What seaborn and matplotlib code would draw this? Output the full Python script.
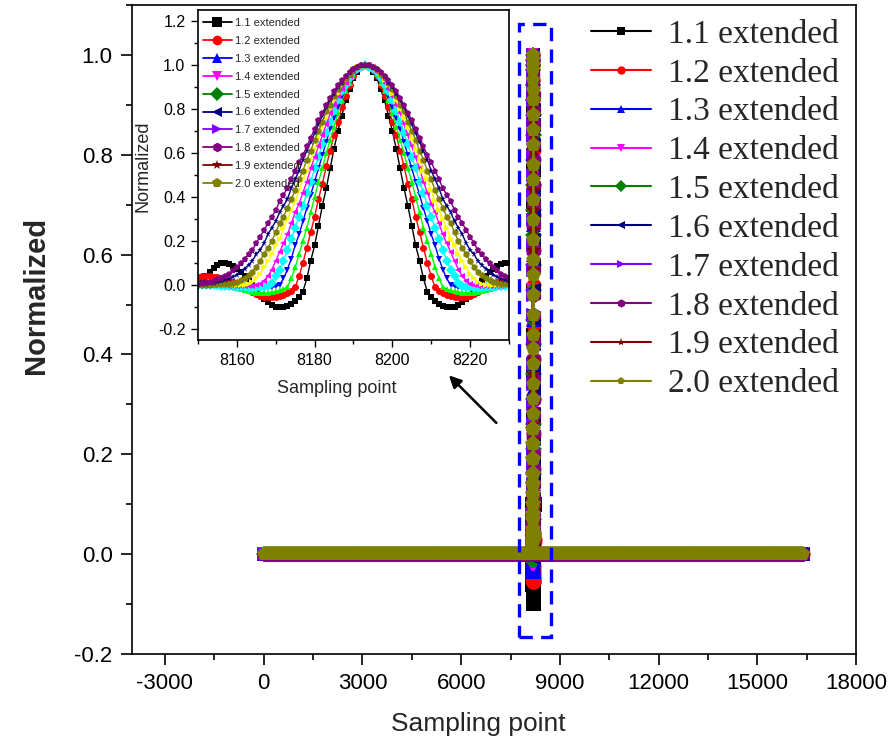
import numpy as np
import matplotlib
matplotlib.use("Agg")
import matplotlib.pyplot as plt
import seaborn as sns
from matplotlib.lines import Line2D
from matplotlib.patches import Rectangle
from matplotlib.ticker import MultipleLocator

# ---------------- data ----------------
labels = ["1.1 extended", "1.2 extended", "1.3 extended", "1.4 extended", "1.5 extended",
          "1.6 extended", "1.7 extended", "1.8 extended", "1.9 extended", "2.0 extended"]

window_start, window_end = 8150, 8230      # sampling points shown in the inset
record_start, record_end = 0, 16384        # full record length
flat_level = 0.0                           # value outside the pulse window

y_11 = [0.01, 0.022, 0.04, 0.06, 0.077, 0.09, 0.098, 0.10, 0.095, 0.087, 0.075, 0.06, 0.04, 0.02, 0.0,
        -0.022, -0.043, -0.062, -0.078, -0.09, -0.098, -0.10, -0.099, -0.094, -0.085, -0.072, -0.055, -0.03,
        0.03, 0.11, 0.18, 0.27, 0.36, 0.44, 0.53, 0.62, 0.70, 0.77, 0.84, 0.89, 0.94, 0.97, 0.99,
        1.00,
        0.99, 0.97, 0.94, 0.89, 0.84, 0.77, 0.70, 0.62, 0.53, 0.44, 0.36, 0.27, 0.18, 0.11, 0.03, -0.03,
        -0.055, -0.072, -0.085, -0.094, -0.099, -0.10, -0.098, -0.09, -0.078, -0.062, -0.043, -0.022, 0.0,
        0.02, 0.04, 0.06, 0.075, 0.087, 0.095, 0.10, 0.098]
y_12 = [0.037, 0.039, 0.04, 0.04, 0.038, 0.035, 0.031, 0.026, 0.019, 0.012, 0.004, -0.004, -0.012, -0.021,
        -0.031, -0.04, -0.048, -0.053, -0.055, -0.055, -0.053, -0.049, -0.043, -0.035, -0.025, -0.01,
        0.04, 0.10, 0.17, 0.24, 0.31, 0.39, 0.46, 0.54, 0.61, 0.68, 0.74, 0.81, 0.86, 0.91, 0.95, 0.98, 0.99,
        1.00,
        0.99, 0.98, 0.95, 0.91, 0.86, 0.81, 0.74, 0.68, 0.61, 0.54, 0.46, 0.39, 0.31, 0.24, 0.17, 0.10, 0.04,
        -0.01, -0.025, -0.035, -0.043, -0.049, -0.053, -0.055, -0.055, -0.053, -0.048, -0.04, -0.031, -0.021,
        -0.012, -0.004, 0.004, 0.012, 0.019, 0.026, 0.031]
y_13 = [0.009, 0.009, 0.009, 0.008, 0.007, 0.005, 0.003, 0.0, -0.003, -0.007, -0.012, -0.017, -0.022, -0.027,
        -0.031, -0.034, -0.035, -0.035, -0.034, -0.032, -0.029, -0.024, -0.018, -0.01,
        0.03, 0.08, 0.14, 0.20, 0.26, 0.33, 0.40, 0.47, 0.53, 0.60, 0.66, 0.72, 0.78, 0.84, 0.88, 0.92, 0.96, 0.98, 0.99,
        1.00,
        0.99, 0.98, 0.96, 0.92, 0.88, 0.84, 0.78, 0.72, 0.66, 0.60, 0.53, 0.47, 0.40, 0.33, 0.26, 0.20, 0.14, 0.08, 0.03,
        -0.01, -0.018, -0.024, -0.029, -0.032, -0.034, -0.035, -0.035, -0.034, -0.031, -0.027, -0.022, -0.017,
        -0.012, -0.007, -0.003, 0.0, 0.003]
y_14 = [0.002, 0.002, 0.001, 0.0, -0.001, -0.003, -0.005, -0.007, -0.009, -0.012, -0.015, -0.017, -0.019, -0.02,
        -0.02, -0.02, -0.019, -0.018, -0.015, -0.011, -0.006, 0.0,
        0.03, 0.07, 0.12, 0.18, 0.23, 0.29, 0.35, 0.41, 0.47, 0.53, 0.59, 0.65, 0.71, 0.76, 0.81, 0.86, 0.90, 0.93, 0.96, 0.98, 0.99,
        1.00,
        0.99, 0.98, 0.96, 0.93, 0.90, 0.86, 0.81, 0.76, 0.71, 0.65, 0.59, 0.53, 0.47, 0.41, 0.35, 0.29, 0.23, 0.18, 0.12, 0.07, 0.03,
        0.0, -0.006, -0.011, -0.015, -0.018, -0.019, -0.02, -0.02, -0.02, -0.019, -0.017, -0.015, -0.012, -0.009, -0.007, -0.005]
y_15 = [0.0, 0.0, 0.0, 0.0, -0.001, -0.002, -0.003, -0.004, -0.005, -0.006, -0.008, -0.01, -0.011, -0.012,
        -0.012, -0.012, -0.011, -0.008, -0.003, 0.01,
        0.04, 0.07, 0.11, 0.16, 0.21, 0.26, 0.31, 0.36, 0.42, 0.47, 0.53, 0.58, 0.64, 0.69, 0.74, 0.79, 0.84, 0.88, 0.91, 0.94, 0.97, 0.98, 0.99,
        1.00,
        0.99, 0.98, 0.97, 0.94, 0.91, 0.88, 0.84, 0.79, 0.74, 0.69, 0.64, 0.58, 0.53, 0.47, 0.42, 0.36, 0.31, 0.26, 0.21, 0.16, 0.11, 0.07, 0.04,
        0.01, -0.003, -0.008, -0.011, -0.012, -0.012, -0.012, -0.011, -0.01, -0.008, -0.006, -0.005, -0.004, -0.003]
y_16 = [0.0, 0.0, 0.0, 0.0, 0.0, 0.0, -0.001, -0.002, -0.003, -0.004, -0.005, -0.006, -0.006, -0.006, -0.005, -0.002,
        0.005, 0.02, 0.04, 0.07, 0.11, 0.15, 0.19, 0.23, 0.28, 0.33, 0.37, 0.42, 0.47, 0.53, 0.58, 0.63, 0.68, 0.73,
        0.78, 0.82, 0.86, 0.89, 0.92, 0.95, 0.97, 0.99, 1.00,
        1.00,
        1.00, 0.99, 0.97, 0.95, 0.92, 0.89, 0.86, 0.82, 0.78, 0.73, 0.68, 0.63, 0.58, 0.53, 0.47, 0.42, 0.37, 0.33,
        0.28, 0.23, 0.19, 0.15, 0.11, 0.07, 0.04, 0.02, 0.005, -0.002, -0.005, -0.006, -0.006, -0.006, -0.005,
        -0.004, -0.003, -0.002, -0.001]
y_17 = [0.0, 0.0, 0.0, 0.0, 0.0, 0.0, 0.0, 0.0, 0.0, -0.001, -0.001, 0.0, 0.002, 0.006, 0.015, 0.03, 0.05, 0.08,
        0.11, 0.14, 0.18, 0.21, 0.26, 0.30, 0.34, 0.38, 0.43, 0.48, 0.52, 0.57, 0.62, 0.67, 0.72, 0.76, 0.80, 0.84,
        0.87, 0.91, 0.93, 0.96, 0.98, 0.99, 1.00,
        1.00,
        1.00, 0.99, 0.98, 0.96, 0.93, 0.91, 0.87, 0.84, 0.80, 0.76, 0.72, 0.67, 0.62, 0.57, 0.52, 0.48, 0.43, 0.38,
        0.34, 0.30, 0.26, 0.21, 0.18, 0.14, 0.11, 0.08, 0.05, 0.03, 0.015, 0.006, 0.002, 0.0, -0.001, -0.001,
        0.0, 0.0, 0.0]
y_18 = [0.002, 0.002, 0.002, 0.002, 0.003, 0.003, 0.004, 0.005, 0.007, 0.011, 0.016, 0.023, 0.033, 0.045, 0.06,
        0.08, 0.11, 0.14, 0.17, 0.20, 0.24, 0.28, 0.31, 0.35, 0.39, 0.43, 0.48, 0.52, 0.57, 0.61, 0.66, 0.70, 0.74,
        0.79, 0.82, 0.86, 0.89, 0.92, 0.94, 0.96, 0.98, 0.99, 1.00,
        1.00,
        1.00, 0.99, 0.98, 0.96, 0.94, 0.92, 0.89, 0.86, 0.82, 0.79, 0.74, 0.70, 0.66, 0.61, 0.57, 0.52, 0.48, 0.43,
        0.39, 0.35, 0.31, 0.28, 0.24, 0.20, 0.17, 0.14, 0.11, 0.08, 0.06, 0.045, 0.033, 0.023, 0.016, 0.011, 0.007,
        0.005, 0.004]
y_19 = [0.004, 0.005, 0.006, 0.008, 0.01, 0.013, 0.017, 0.022, 0.028, 0.037, 0.047, 0.06, 0.075, 0.09, 0.11, 0.14,
        0.16, 0.19, 0.23, 0.26, 0.29, 0.33, 0.36, 0.39, 0.44, 0.48, 0.52, 0.57, 0.61, 0.65, 0.69, 0.73, 0.77, 0.81,
        0.84, 0.87, 0.90, 0.92, 0.95, 0.97, 0.98, 0.99, 1.00,
        1.00,
        1.00, 0.99, 0.98, 0.97, 0.95, 0.92, 0.90, 0.87, 0.84, 0.81, 0.77, 0.73, 0.69, 0.65, 0.61, 0.57, 0.52, 0.48,
        0.44, 0.39, 0.36, 0.33, 0.29, 0.26, 0.23, 0.19, 0.16, 0.14, 0.11, 0.09, 0.075, 0.06, 0.047, 0.037, 0.028,
        0.022, 0.017]
y_20 = [0.007, 0.009, 0.012, 0.016, 0.02, 0.026, 0.03, 0.04, 0.05, 0.07, 0.08, 0.10, 0.12, 0.14, 0.16, 0.19, 0.22,
        0.25, 0.28, 0.31, 0.34, 0.38, 0.41, 0.44, 0.48, 0.52, 0.56, 0.59, 0.63, 0.67, 0.71, 0.75, 0.78, 0.82, 0.85,
        0.88, 0.91, 0.93, 0.95, 0.97, 0.98, 0.99, 1.00,
        1.00,
        1.00, 0.99, 0.98, 0.97, 0.95, 0.93, 0.91, 0.88, 0.85, 0.82, 0.78, 0.75, 0.71, 0.67, 0.63, 0.59, 0.56, 0.52,
        0.48, 0.44, 0.41, 0.38, 0.34, 0.31, 0.28, 0.25, 0.22, 0.19, 0.16, 0.14, 0.12, 0.10, 0.08, 0.07, 0.05, 0.04, 0.03]

series = [y_11, y_12, y_13, y_14, y_15, y_16, y_17, y_18, y_19, y_20]

main_colors = ["#000000", "#FF0000", "#0000FF", "#FF00FF", "#008000",
               "#000080", "#8000FF", "#800080", "#800000", "#808000"]
inset_colors = ["#000000", "#FF0000", "#00FF00", "#0000FF", "#00FFFF",
                "#FF00FF", "#FFFF00", "#808000", "#000080", "#800080"]
markers = ["s", "o", "^", "v", "D", "<", ">", "h", "*", "p"]
main_marker_sizes = [10, 10, 10, 10, 8, 10, 10, 11, 10, 11]

main_xticks = [-3000, 0, 3000, 6000, 9000, 12000, 15000, 18000]
main_yticks = [-0.2, 0.0, 0.2, 0.4, 0.6, 0.8, 1.0]
inset_xticks = [8160, 8180, 8200, 8220]
inset_yticks = [-0.2, 0.0, 0.2, 0.4, 0.6, 0.8, 1.0, 1.2]

# ---------------- style ----------------
sns.set_theme(style="ticks")
plt.rcParams["font.family"] = ["Liberation Sans", "DejaVu Sans"]
plt.rcParams["axes.linewidth"] = 1.2
plt.rcParams["axes.edgecolor"] = "black"

fig = plt.figure(figsize=(8.89, 7.49), dpi=100)
ax = fig.add_axes([0.1485, 0.1268, 0.8145, 0.8665])

window_x = np.arange(window_start, window_end + 1)
for s in series:
    assert len(s) == len(window_x), len(s)

flat_left = np.arange(record_start, window_start, 60)
flat_right = np.append(np.arange(window_end + 60, record_end, 60), record_end)

for i, y in enumerate(series):
    xm = np.concatenate([flat_left, window_x, flat_right])
    ym = np.concatenate([np.full(len(flat_left), flat_level), np.asarray(y),
                         np.full(len(flat_right), flat_level)])
    sns.lineplot(x=xm, y=ym, ax=ax, color=main_colors[i], marker=markers[i],
                 markersize=main_marker_sizes[i], markeredgewidth=0, linewidth=1.5,
                 estimator=None, sort=False, legend=False)

ax.set_xlim(-4000, 18000)
ax.set_ylim(-0.2, 1.1)
ax.set_xticks(main_xticks)
ax.set_xticklabels([str(v) for v in main_xticks])
ax.set_yticks(main_yticks)
ax.set_yticklabels([f"{v:.1f}" for v in main_yticks])
ax.xaxis.set_minor_locator(MultipleLocator(1500))
ax.yaxis.set_minor_locator(MultipleLocator(0.1))
ax.tick_params(which="both", direction="out", top=False, right=False, width=1.2, colors="black")
ax.tick_params(which="major", length=8, labelsize=16, pad=6)
ax.tick_params(which="minor", length=4.5)
for sp in ax.spines.values():
    sp.set_visible(True)
    sp.set_linewidth(1.2)
    sp.set_color("black")

ax.set_xlabel("Sampling point", fontsize=19)
ax.set_ylabel("Normalized", fontsize=21, fontweight="bold")
ax.xaxis.set_label_coords(0.478, -0.089)
ax.yaxis.set_label_coords(-0.113, 0.553)

# dashed box around the pulse
rect = Rectangle((7760, -0.165), 980, 1.226, fill=False, edgecolor="#0000FF",
                 linewidth=2.4, linestyle=(0, (4, 2.5)), zorder=5)
ax.add_patch(rect)

# arrow pointing to the inset
ax.annotate("", xy=(5570, 0.362), xytext=(7130, 0.259),
            arrowprops=dict(arrowstyle="-|>", color="black", lw=1.8, mutation_scale=18))

# main legend
handles = [Line2D([0], [0], color=main_colors[i], marker=markers[i], markersize=6,
                  markeredgewidth=0, linewidth=1.5) for i in range(10)]
ax.legend(handles, labels, loc="upper left", bbox_to_anchor=(0.634, 0.978),
          frameon=False, borderaxespad=0, borderpad=0,
          prop={"family": "Liberation Serif", "size": 24},
          handlelength=1.8, handletextpad=0.5, labelspacing=0.25)

# ---------------- inset ----------------
ax_in = fig.add_axes([0.2227, 0.546, 0.3498, 0.4406])
ax_in.set_facecolor("white")
for i, y in enumerate(series):
    sns.lineplot(x=window_x, y=y, ax=ax_in, color=inset_colors[i], marker=markers[i],
                 markersize=5, markeredgewidth=0, linewidth=1.0,
                 estimator=None, sort=False, legend=False)
ax_in.set_xlim(8150, 8230)
ax_in.set_ylim(-0.25, 1.25)
ax_in.set_xticks(inset_xticks)
ax_in.set_xticklabels([str(v) for v in inset_xticks])
ax_in.set_yticks(inset_yticks)
ax_in.set_yticklabels([f"{v:.1f}" for v in inset_yticks])
ax_in.xaxis.set_minor_locator(MultipleLocator(10))
ax_in.yaxis.set_minor_locator(MultipleLocator(0.1))
ax_in.tick_params(which="both", direction="out", top=False, right=False, width=1.0, colors="black")
ax_in.tick_params(which="major", length=5, labelsize=11.5, pad=4)
ax_in.tick_params(which="minor", length=3)
for sp in ax_in.spines.values():
    sp.set_visible(True)
    sp.set_linewidth(1.2)
    sp.set_color("black")
ax_in.set_xlabel("Sampling point", fontsize=13)
ax_in.set_ylabel("Normalized", fontsize=13)
ax_in.xaxis.set_label_coords(0.447, -0.121)
ax_in.yaxis.set_label_coords(-0.148, 0.527)

in_handles = [Line2D([0], [0], color=main_colors[i], marker=markers[i], markersize=7,
                     markeredgewidth=0, linewidth=1.3) for i in range(10)]
ax_in.legend(in_handles, labels, loc="upper left", bbox_to_anchor=(0.016, 0.976),
             frameon=False, borderaxespad=0, borderpad=0, fontsize=8,
             handlelength=2.6, handletextpad=0.3, labelspacing=0.71)

fig.savefig("out.png", dpi=100)
